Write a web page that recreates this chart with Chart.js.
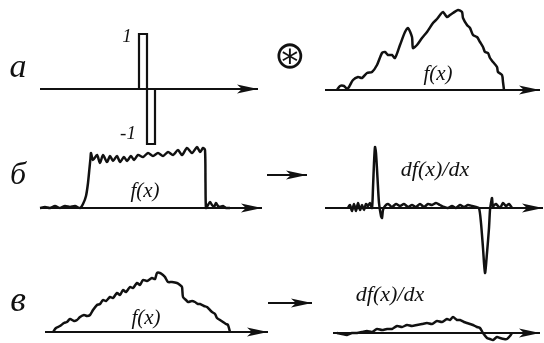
<!DOCTYPE html>
<html>
<head>
<meta charset="utf-8">
<script src="https://cdn.jsdelivr.net/npm/chart.js@4/dist/chart.umd.min.js"></script>
<style>
  html, body { margin: 0; padding: 0; background: #fff; }
  #wrap { width: 544px; height: 343px; }
</style>
</head>
<body>
<div id="wrap"><canvas id="fig" width="544" height="343"></canvas></div>
<script>
// --- data (x along the axis, amplitude above the axis) ---

// a: kernel (two unit bars, +1 and -1)
var kernelCenters = [143, 151];
var kernelValues  = [1, -1];

// a: signal f(x)
var aFx = [337,340,344,347,349,353,358,362,367,372,377,382,385,388,392,395,400,405,408,412,
           413,417,422,427,433,437,440,443,447,450,453,458,462,463,467,470,473,477,480,483,
           485,488,490,493,497,498,502,503,504];
var aFy = [0,4,4,1,3,10,13,12,17,18,25,37,38,35,35,32,45,58,62,53,
           42,45,52,58,67,71,75,78,73,75,77,80,78,72,65,62,55,53,48,43,
           38,37,32,28,23,18,15,8,0];

// b: step-like f(x)
var bFx = [40,45,50,55,60,65,70,75,80, 83,86,88,89.5,90.5,
           91,93,97,100,103,107,110,113,117,120,124,127,131,134,138,143,148,153,158,163,
           168,173,178,182,187,192,197,200,203,205, 205.5,206,
           208,210,212,214,216,218,220,223,226,230];
var bFy = [0,1,0,2,0,2,1,2,0, 4,12,25,40,50,
           55,48,53,45,53,46,52,47,52,46,51,47,52,48,53,51,55,52,55,52,
           56,53,58,53,60,55,61,56,60,58, 25,0,
           3,6,3,1,5,2,1,2,0,0];

// b: df(x)/dx
var bDx = [348,350,352,354,356,358,360,362,364,366,368,370,372,
           373,374,375,376,377.5,379,381,382,383,385,
           388,392,396,400,404,408,412,416,420,424,428,432,436,440,444,448,452,456,460,464,468,472,476,479,
           481,483,485,487,489,490,491,492,493,496,500,503,506,509,512];
var bDy = [0,3,-3,4,-3,5,-2,3,-2,4,2,5,0,
           20,45,61,55,30,5,-8,-10,-2,2,
           4,1,4,2,4,1,3,1,4,1,4,3,5,3,1,0,2,0,3,1,3,2,1,0,
           -15,-40,-65,-45,-20,-2,5,10,2,4,0,5,2,4,0];

// c: triangle-like f(x)
var cFx = [53,56,60,64,67,70,74,77,80,84,87,90,93,97,100,103,106,110,113,117,
           120,123,126,130,133,137,140,143,147,152,155,157,160,163,165,168,172,177,180,182,
           183,186,188,192,195,198,200,204,207,210,212,215,217,220,223,226,228,230];
var cFy = [0,4,6,9,10,13,11,12,15,17,16,17,22,27,28,32,31,35,34,39,
           37,42,40,45,44,49,47,52,51,54,53,59,59,57,55,50,50,49,47,45,
           35,32,30,31,30,28,28,26,25,22,20,18,14,12,10,8,7,0];

// c: df(x)/dx
var cDx = [337,342,347,352,357,362,367,372,377,382,387,392,397,402,407,412,417,422,427,432,
           437,442,447,450,453,457,460,464,467,470,473,477,480,483,487,490,493,497,500,504,
           507,510,512];
var cDy = [0,-1,-2,0,0,1,2,1,4,3,4,4,7,6,8,7,8,9,10,9,
           12,11,14,13,16,13,13,11,10,9,8,6,5,0,-5,-6,-7,-4,-5,-6,
           -6,-3,0];

// --- layout ---
var INK = '#111';
var rows = {a: 89, b: 208, c: 332};
var kernelUnit = 55, kernelHalfW = 4;

function curve(xs, ys, base) {
	var pts = [];
	for (var i = 0; i < xs.length; i++) {pts.push({x: xs[i], y: base - ys[i]});}
	return pts;
}

function axis(x0, x1, y) {
	return {data: [{x: x0, y: y}, {x: x1, y: y}], borderColor: INK, borderWidth: 2.2, tension: 0, arrow: true};
}

function line(pts, w) {
	return {data: pts, borderColor: INK, borderWidth: w || 2.5, tension: 0.25};
}

var datasets = [
	axis(40, 258, rows.a), axis(325, 540, rows.a + 1),
	axis(40, 262, rows.b), axis(325, 543, rows.b),
	axis(45, 268, rows.c), axis(333, 540, rows.c + 1),
	axis(267, 307, 175), axis(268, 312, 303),
	line(curve(aFx, aFy, rows.a + 1)),
	line(curve(bFx, bFy, rows.b)),
	line(curve(bDx, bDy, rows.b)),
	line(curve(cFx, cFy, rows.c)),
	line(curve(cDx, cDy, rows.c + 1))
];

for (var k = 0; k < kernelValues.length; k++) {
	var barTop = rows.a - kernelValues[k] * kernelUnit;
	var barL = kernelCenters[k] - kernelHalfW, barR = kernelCenters[k] + kernelHalfW;
	datasets.push({
		data: [{x: barL, y: rows.a}, {x: barL, y: barTop}, {x: barR, y: barTop}, {x: barR, y: rows.a}, {x: barL, y: rows.a}],
		borderColor: INK, borderWidth: 2.2, tension: 0, fill: false
	});
}

var texts = [
	{t: 'а',        x: 18,  y: 68,  f: 'italic 34px "Liberation Serif"'},
	{t: 'б',        x: 18,  y: 176, f: 'italic 32px "Liberation Serif"'},
	{t: 'в',        x: 18,  y: 302, f: 'italic 36px "Liberation Serif"'},
	{t: '1',        x: 127, y: 37,  f: 'italic 19px "Liberation Serif"'},
	{t: '-1',       x: 128, y: 134, f: 'italic 19px "Liberation Serif"'},
	{t: 'f(x)',     x: 438, y: 74,  f: 'italic 21px "Liberation Serif"'},
	{t: 'f(x)',     x: 145, y: 191, f: 'italic 21px "Liberation Serif"'},
	{t: 'f(x)',     x: 146, y: 318, f: 'italic 21px "Liberation Serif"'},
	{t: 'df(x)/dx', x: 435, y: 170, f: 'italic 22px "Liberation Serif"'},
	{t: 'df(x)/dx', x: 390, y: 295, f: 'italic 22px "Liberation Serif"'},
	{t: '⊛',        x: 290, y: 58,  f: '38px "DejaVu Sans"'}
];

var figurePlugin = {
	id: 'figure',
	afterDatasetsDraw: function(chart) {
		var ctx = chart.ctx, xs = chart.scales.x, ys = chart.scales.y;
		ctx.save();
		ctx.fillStyle = INK;
		chart.data.datasets.forEach(function(ds) {
			if (!ds.arrow) {return;}
			var p = ds.data[ds.data.length - 1];
			var tx = xs.getPixelForValue(p.x), ty = ys.getPixelForValue(p.y);
			ctx.beginPath();
			ctx.moveTo(tx, ty);
			ctx.lineTo(tx - 21, ty - 4.5);
			ctx.lineTo(tx - 16, ty);
			ctx.lineTo(tx - 21, ty + 4.5);
			ctx.closePath();
			ctx.fill();
		});
		ctx.textAlign = 'center';
		ctx.textBaseline = 'middle';
		texts.forEach(function(o) {
			ctx.font = o.f;
			ctx.fillText(o.t, xs.getPixelForValue(o.x), ys.getPixelForValue(o.y));
		});
		ctx.restore();
	}
};

new Chart(document.getElementById('fig'), {
	type: 'scatter',
	data: {datasets: datasets},
	options: {
		responsive: false,
		animation: false,
		showLine: true,
		layout: {padding: 0},
		elements: {point: {radius: 0, hoverRadius: 0}},
		scales: {
			x: {type: 'linear', min: 0, max: 544, display: false},
			y: {type: 'linear', min: 0, max: 343, reverse: true, display: false}
		},
		plugins: {legend: {display: false}, tooltip: {enabled: false}}
	},
	plugins: [figurePlugin]
});
</script>
</body>
</html>
